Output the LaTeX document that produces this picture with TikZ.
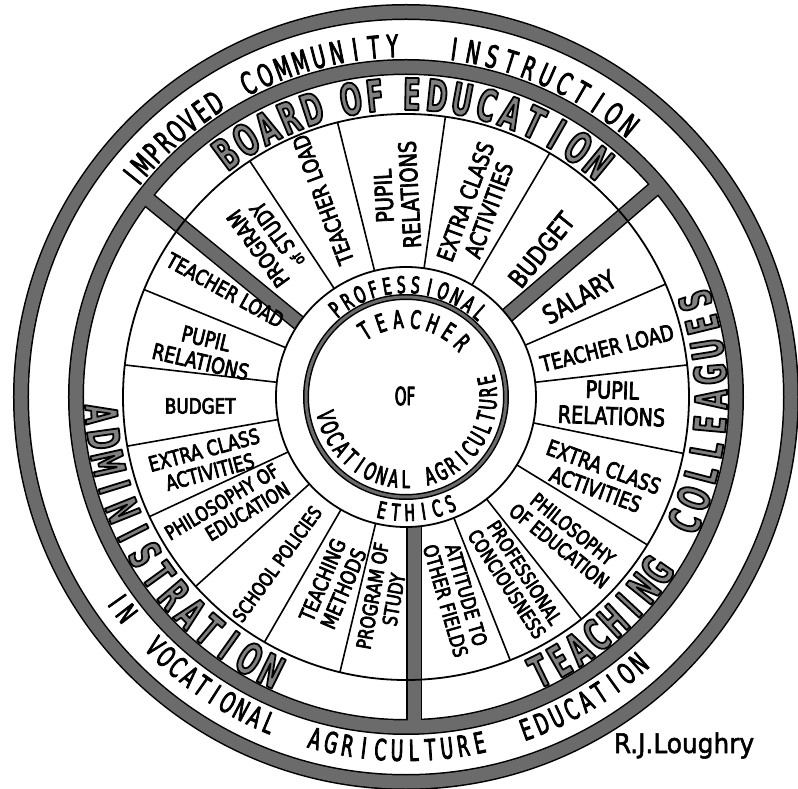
\documentclass[tikz,border=0pt]{standalone}
\usepackage{fontspec}
\setmainfont{DejaVu Sans}
\newfontfamily\letfont[FakeStretch=0.8]{DejaVu Sans}
\newfontfamily\ringfont[FakeStretch=0.6]{DejaVu Sans}
\newfontfamily\bigfont[FakeStretch=0.58]{DejaVu Sans Bold}
\newfontfamily\sigfont[FakeStretch=0.92]{DejaVu Sans}
\definecolor{ringgray}{gray}{0.42}
\newcommand\segf[1]{\letfont\fontsize{#1}{\fpeval{#1*1.08}}\selectfont}
\newcommand\rf[1]{\ringfont\fontsize{#1}{#1}\selectfont}
\newcommand\bigf[1]{\bigfont\fontsize{#1}{#1}\selectfont}
% stroked text (fill + stroke) to thicken the lettering
\newcommand\stk[1]{\special{pdf:literal direct 2 Tr #1 w}}
% outlined letters: gray fill, black outline
\newcommand\outl{\special{pdf:literal direct 0.5 g 0 G 2 Tr 1.8 w}}
\newcommand\unstk{\special{pdf:literal direct 0 Tr 0 g 0 G}}
% #1 name prefix, #2 style, #3 baseline radius, #4 first letter angle, #5 step, #6 rotation offset, #7 letters
\newcommand\ringword[7]{%
  \foreach \ch [count=\i from 0] in {#7} {%
    \node[#2, name=#1\i, anchor=base, inner sep=0pt,
      rotate={#4+\i*(#5)+(#6)}] at ({#4+\i*(#5)}:#3) {\ch};}}
\begin{document}
\begin{tikzpicture}[x=1pt,y=1pt,line join=round,
  thick text/.style={execute at begin node={\stk{#1}}, execute at end node={\unstk}},
  outerlet/.style={font=\rf{31}, thick text=0.8},
  bottomlet/.style={font=\rf{29}, thick text=0.8},
  biglet/.style={font=\bigf{44}, execute at begin node={\outl}, execute at end node={\unstk}},
  proflet/.style={font=\rf{23}, thick text=0.8},
  techlet/.style={font=\rf{25}, thick text=0.8},
  voclet/.style={font=\rf{24}, thick text=0.8},
  seg/.style={align=center, inner sep=0pt, thick text=0.7},
  divider/.style={line width=1.6pt},
  thinring/.style={line width=1.8pt},
  bandblack/.style={line width=16pt, line cap=butt},
  bandgray/.style={line width=13pt, line cap=butt, draw=ringgray}]
\useasboundingbox (-406,-392) rectangle (392,397);
\fill[white] (-406,-392) rectangle (392,397);
% ---- black under-layers of bands and spokes
\draw[bandblack] (0,0) circle[radius=385pt];
\draw[bandblack] (0,0) circle[radius=330pt];
\draw[bandblack] (-107,74) -- (-262,201);
\draw[bandblack] (101,81.4) -- (252.6,211.8);
\draw[bandblack] (8.5,-129.7) -- (8.5,-330);
\draw[line width=6pt] (0,0) circle[radius=100pt];
% ---- gray fill of bands and spokes
\draw[bandgray] (0,0) circle[radius=385pt];
\draw[bandgray] (0,0) circle[radius=330pt];
\draw[bandgray] (-107,74) -- (-262,201);
\draw[bandgray] (101,81.4) -- (252.6,211.8);
\draw[bandgray] (8.5,-129.7) -- (8.5,-330);
\draw[line width=3pt, ringgray] (0,0) circle[radius=100pt];
% ---- thin circles
\draw[thinring] (0,0) circle[radius=283pt];
\draw[thinring] (0,0) circle[radius=130pt];
% ---- segment dividers
\foreach \a in {123.5,104,82,59.5, 23.5,6.5,-11.5,-31.5,-51.7,-68.4,
                157.7,173.5,190,205,222,240,256.5}
  \draw[divider] (\a:130pt) -- (\a:283pt);
% ---- outer band text
\ringword{imp}{outerlet}{340pt}{141.2}{-2.586}{-90}{I,M,P,R,O,V,E,D}
\ringword{com}{outerlet}{340pt}{116.7}{-3.06}{-90}{C,O,M,M,U,N,I,T,Y}
\ringword{ins}{outerlet}{340pt}{82.1}{-3.15}{-90}{I,N,S,T,R,U,C,T,I,O,N}
\ringword{inw}{bottomlet}{364pt}{215.2}{2.6}{90}{I,N}
\ringword{voc}{bottomlet}{364pt}{224.8}{2.49}{90}{V,O,C,A,T,I,O,N,A,L}
\ringword{agr}{bottomlet}{364pt}{255.1}{2.69}{90}{A,G,R,I,C,U,L,T,U,R,E}
\ringword{edu}{bottomlet}{364pt}{289.9}{2.66}{90}{E,D,U,C,A,T,I,O,N}
% ---- big band text
\ringword{brd}{biglet}{287pt}{126.5}{-4.6}{-90}{B,O,A,R,D}
\ringword{bof}{biglet}{287pt}{100.5}{-4.6}{-90}{O,F}
\ringword{bed}{biglet}{287pt}{88.9}{-4.79}{-90}{E,D,U,C,A,T,I,O,N}
\ringword{adm}{biglet}{321pt}{183.2}{4.66}{90}{A,D,M,I,N,I,S,T,R,A,T,I,O,N}
\ringword{tch}{biglet}{321pt}{296}{4.2}{90}{T,E,A,C,H,I,N,G}
\ringword{col}{biglet}{321pt}{335.9}{4.73}{90}{C,O,L,L,E,A,G,U,E,S}
% ---- professional ethics ring
\ringword{pro}{proflet}{104pt}{128.9}{-7.29}{-90}{P,R,O,F,E,S,S,I,O,N,A,L}
\ringword{eth}{proflet}{124pt}{258}{6.9}{90}{E,T,H,I,C,S}
% ---- centre
\ringword{tea}{techlet}{69pt}{121.8}{-12.97}{-90}{T,E,A,C,H,E,R}
\ringword{vca}{voclet}{91pt}{193.3}{8.5}{90}{V,O,C,A,T,I,O,N,A,L}
\ringword{agc}{voclet}{91pt}{286.8}{8.5}{90}{A,G,R,I,C,U,L,T,U,R,E}
\node[techlet, inner sep=0pt] (of) at (-1,1) {OF};
% ---- top sector (Board of Education)
\node[seg, font=\segf{22}, rotate=126] (bps) at (131.7:208pt) {PROGRAM\\{\fontsize{15}{15}\selectfont of} STUDY};
\node[seg, font=\segf{22}, rotate=110.5] (btl) at (112.8:214pt) {TEACHER LOAD};
\node[seg, font=\segf{24}, rotate=93] (bpr) at (92.6:202pt) {PUPIL\\RELATIONS};
\node[seg, font=\segf{23}, rotate=70] (bec) at (69.6:204pt) {EXTRA CLASS\\ACTIVITIES};
\node[seg, font=\segf{26}, rotate=51] (bbu) at (47.4:200pt) {BUDGET};
% ---- right sector (Teaching colleagues)
\node[seg, font=\segf{26}, rotate=30] (tsa) at (30:200pt) {SALARY};
\node[seg, font=\segf{22}, rotate=14] (ttl) at (13.7:207pt) {TEACHER LOAD};
\node[seg, font=\segf{24}, rotate=-2] (tpr) at (-1.7:206pt) {PUPIL\\RELATIONS};
\node[seg, font=\segf{22}, rotate=-20] (tec) at (-22.7:210pt) {EXTRA CLASS\\ACTIVITIES};
\node[seg, font=\segf{20}, rotate=-39] (tph) at (-41.3:213pt) {PHILOSOPHY\\OF EDUCATION};
\node[seg, font=\segf{19.5}, rotate=-57] (tpc) at (-58.8:212pt) {PROFESSIONAL\\CONCIOUSNESS};
\node[seg, font=\segf{20}, rotate=-74] (tat) at (-76:207pt) {ATTITUDE TO\\OTHER FIELDS};
% ---- left sector (Administration)
\node[seg, font=\segf{21}, rotate=-29] (atl) at (149.4:210pt) {TEACHER LOAD};
\node[seg, font=\segf{22}, rotate=-13] (apr) at (167:208pt) {PUPIL\\RELATIONS};
\node[seg, font=\segf{21}, rotate=0] (abu) at (182.5:206pt) {BUDGET};
\node[seg, font=\segf{21}, rotate=15] (aec) at (197.8:209pt) {EXTRA CLASS\\ACTIVITIES};
\node[seg, font=\segf{20}, rotate=31, align=right] (aph) at (212.5:212pt) {PHILOSOPHY OF\\EDUCATION};
\node[seg, font=\segf{19}, rotate=54] (asp) at (232.3:211pt) {SCHOOL POLICIES};
\node[seg, font=\segf{21}, rotate=67] (atm) at (248.7:201pt) {TEACHING\\METHODS};
\node[seg, font=\segf{20}, rotate=80] (aps) at (263.5:202pt) {PROGRAM OF\\STUDY};
% ---- signature
\node[font=\sigfont\fontsize{27}{27}\selectfont, thick text=0.5, anchor=base, inner sep=0pt] (sig) at (278,-356) {R.J.Loughry};
\end{tikzpicture}
\end{document}
